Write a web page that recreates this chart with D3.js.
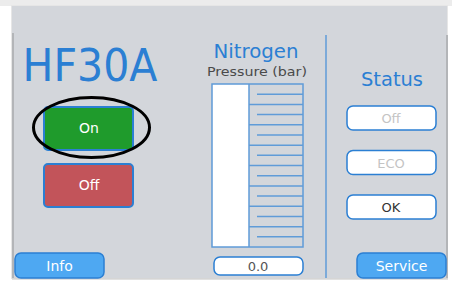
<!DOCTYPE html>
<html>
<head>
<meta charset="utf-8">
<script src="https://cdn.jsdelivr.net/npm/d3@7"></script>
<style>
  html, body { margin: 0; padding: 0; background: #fff; }
  svg { display: block; font-family: "DejaVu Sans", Verdana, sans-serif; }
</style>
</head>
<body>
<div id="panel"></div>
<script>
// data
var modelName = "HF30A";
var powerButtons = ["On", "Off"];
var powerColors = ["#1f9b2c", "#c2545a"];
var gaugeTitle = "Nitrogen";
var gaugeUnit = "Pressure (bar)";
var gaugeMajor = [0, 1, 2, 3, 4, 5, 6, 7, 8];
var gaugeMinor = [0.5, 1.5, 2.5, 3.5, 4.5, 5.5, 6.5, 7.5];
var pressureValue = 0.0;
var statusTitle = "Status";
var statusLabels = ["Off", "ECO", "OK"];
var statusActive = [false, false, true];
var footerButtons = ["Info", "Service"];

var blue = "#2b7fd3", lineBlue = "#5f9bd8", panelFill = "#d3d6db";
var width = 452, height = 283;

var svg = d3.select("#panel").append("svg")
    .attr("width", width)
    .attr("height", height);

// frame
svg.append("rect").attr("x", 0).attr("y", 0).attr("width", width).attr("height", 6).attr("fill", "#ececec");
svg.append("rect").attr("x", 11).attr("y", 5).attr("width", 437).attr("height", 274).attr("fill", "#e6e6e6");
svg.append("rect").attr("x", 12).attr("y", 6).attr("width", 435).attr("height", 272).attr("fill", panelFill);
svg.append("line").attr("x1", 13).attr("x2", 13).attr("y1", 33).attr("y2", 278).attr("stroke", "#b3b5b8").attr("stroke-width", 2);
svg.append("line").attr("x1", 447).attr("x2", 447).attr("y1", 35).attr("y2", 278).attr("stroke", "#b3b5b8").attr("stroke-width", 2);
svg.append("line").attr("x1", 12).attr("x2", 448).attr("y1", 279).attr("y2", 279).attr("stroke", "#c4c4c4").attr("stroke-width", 1);

// column divider
svg.append("line").attr("x1", 326).attr("x2", 326).attr("y1", 35).attr("y2", 278)
    .attr("stroke", lineBlue).attr("stroke-width", 1.5);

// title
svg.append("text").attr("x", 90).attr("y", 81)
    .attr("text-anchor", "middle")
    .attr("font-size", 45)
    .attr("textLength", 135).attr("lengthAdjust", "spacingAndGlyphs")
    .attr("fill", blue)
    .text(modelName);

// power buttons
var yPower = d3.scalePoint().domain(powerButtons).range([107, 164]);
var pb = svg.selectAll("g.power").data(powerButtons).enter().append("g").attr("class", "power");
pb.append("rect")
    .attr("x", 44).attr("y", function(d) { return yPower(d); })
    .attr("width", 89).attr("height", 43).attr("rx", 4)
    .attr("fill", function(d, i) { return powerColors[i]; })
    .attr("stroke", blue).attr("stroke-width", 2);
pb.append("text")
    .attr("x", 89).attr("y", function(d) { return yPower(d) + 26; })
    .attr("text-anchor", "middle").attr("font-size", 14)
    .attr("fill", "#fff")
    .text(function(d) { return d; });

// highlight ellipse round the "On" button
svg.append("ellipse").attr("cx", 91.5).attr("cy", 127.5).attr("rx", 58).attr("ry", 30)
    .attr("fill", "none").attr("stroke", "#000").attr("stroke-width", 3);

// gauge
svg.append("text").attr("x", 256).attr("y", 58).attr("text-anchor", "middle")
    .attr("font-size", 19).attr("textLength", 85).attr("lengthAdjust", "spacingAndGlyphs")
    .attr("fill", blue).text(gaugeTitle);
svg.append("text").attr("x", 257).attr("y", 76).attr("text-anchor", "middle")
    .attr("font-size", 13).attr("textLength", 100).attr("lengthAdjust", "spacingAndGlyphs")
    .attr("fill", "#4a4a4a").text(gaugeUnit);

var gx0 = 212, gxMid = 249, gx1 = 303;
var yGauge = d3.scaleLinear().domain([0, 8]).range([247, 84]);

svg.append("rect").attr("x", gx0).attr("y", yGauge(8))
    .attr("width", gxMid - gx0).attr("height", yGauge(0) - yGauge(8))
    .attr("fill", "#fff");
svg.append("rect").attr("x", gx0).attr("y", yGauge(8))
    .attr("width", gx1 - gx0).attr("height", yGauge(0) - yGauge(8))
    .attr("fill", "none").attr("stroke", lineBlue).attr("stroke-width", 1.5);
svg.append("line").attr("x1", gxMid).attr("x2", gxMid).attr("y1", yGauge(8)).attr("y2", yGauge(0))
    .attr("stroke", lineBlue).attr("stroke-width", 1.5);

svg.selectAll("line.major").data(gaugeMajor.slice(1, -1)).enter().append("line")
    .attr("class", "major")
    .attr("x1", gxMid).attr("x2", gx1)
    .attr("y1", function(d) { return yGauge(d); })
    .attr("y2", function(d) { return yGauge(d); })
    .attr("stroke", lineBlue).attr("stroke-width", 1.5);
svg.selectAll("line.minor").data(gaugeMinor).enter().append("line")
    .attr("class", "minor")
    .attr("x1", 257).attr("x2", gx1)
    .attr("y1", function(d) { return yGauge(d); })
    .attr("y2", function(d) { return yGauge(d); })
    .attr("stroke", lineBlue).attr("stroke-width", 1.5);

// value field
svg.append("rect").attr("x", 214).attr("y", 257).attr("width", 89).attr("height", 18).attr("rx", 6)
    .attr("fill", "#fff").attr("stroke", blue).attr("stroke-width", 1.5);
svg.append("text").attr("x", 258).attr("y", 271).attr("text-anchor", "middle")
    .attr("font-size", 13).attr("fill", "#555")
    .text(pressureValue.toFixed(1));

// status column
svg.append("text").attr("x", 392).attr("y", 86).attr("text-anchor", "middle")
    .attr("font-size", 19).attr("textLength", 62).attr("lengthAdjust", "spacingAndGlyphs")
    .attr("fill", blue).text(statusTitle);

var yStatus = d3.scalePoint().domain(statusLabels).range([106, 195]);
var sb = svg.selectAll("g.status").data(statusLabels).enter().append("g").attr("class", "status");
sb.append("rect")
    .attr("x", 347).attr("y", function(d) { return yStatus(d); })
    .attr("width", 89).attr("height", 24).attr("rx", 6)
    .attr("fill", "#fff").attr("stroke", blue).attr("stroke-width", 1.5);
sb.append("text")
    .attr("x", 391).attr("y", function(d) { return yStatus(d) + 17; })
    .attr("text-anchor", "middle").attr("font-size", 13)
    .attr("fill", function(d, i) { return statusActive[i] ? "#333" : "#c4c4c4"; })
    .text(function(d) { return d; });

// footer buttons
var xFooter = d3.scalePoint().domain(footerButtons).range([15, 357]);
var fb = svg.selectAll("g.footer").data(footerButtons).enter().append("g").attr("class", "footer");
fb.append("rect")
    .attr("x", function(d) { return xFooter(d); }).attr("y", 253)
    .attr("width", 89).attr("height", 25).attr("rx", 6)
    .attr("fill", "#4ea8f2").attr("stroke", blue).attr("stroke-width", 1.5);
fb.append("text")
    .attr("x", function(d) { return xFooter(d) + 44.5; }).attr("y", 271)
    .attr("text-anchor", "middle").attr("font-size", 14)
    .attr("fill", "#fff")
    .text(function(d) { return d; });
</script>
</body>
</html>
